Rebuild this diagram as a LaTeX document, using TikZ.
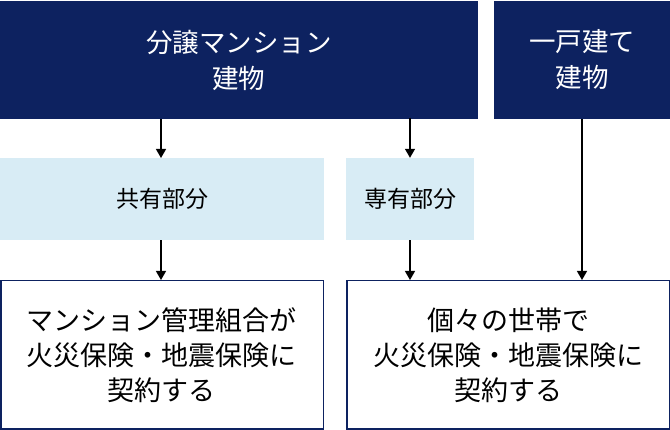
\documentclass[tikz,border=0pt]{standalone}
\usepackage{fontspec}
\setmainfont{Noto Sans CJK JP}
\usetikzlibrary{arrows.meta}
\definecolor{navy}{HTML}{0D2260}
\definecolor{lblue}{HTML}{D8ECF5}
\begin{document}
\begin{tikzpicture}[x=1pt,y=-1pt,
  dark/.style={fill=navy,text=white,draw=none,inner sep=0,align=center,font=\fontsize{26.5}{36}\selectfont},
  light/.style={fill=lblue,text=black,draw=none,inner sep=0,align=center,font=\fontsize{23}{30}\selectfont},
  res/.style={fill=white,draw=navy,line width=1.5pt,inner sep=0,align=center,font=\fontsize{27}{35}\selectfont},
  arr/.style={-{Triangle[length=9pt,width=10pt]},line width=1.3pt,black}]
\useasboundingbox (0,0) rectangle (670,430);
\node[dark,minimum width=478,minimum height=118] (m) at (239,60) {分譲マンション\\建物};
\node[dark,minimum width=176,minimum height=118] (h) at (582,60) {一戸建て\\建物};
\node[light,minimum width=324,minimum height=82] (k) at (162,199) {共有部分};
\node[light,minimum width=128,minimum height=82] (s) at (410,199) {専有部分};
\node[res,minimum width=322.5,minimum height=148.5] (r1) at (162,355) {マンション管理組合が\\火災保険・地震保険に\\契約する};
\node[res,minimum width=322.5,minimum height=148.5] (r2) at (508,355) {個々の世帯で\\火災保険・地震保険に\\契約する};
\draw[arr] (m.south -| k.north) ++(-1,0) -- (161,158);
\draw[arr] (410,118) -- (s.north);
\draw[arr] (k.south) ++(-1,0) -- (161,280);
\draw[arr] (s.south) -- (410,280);
\draw[arr] (h.south) -- (582,280);
\end{tikzpicture}
\end{document}
